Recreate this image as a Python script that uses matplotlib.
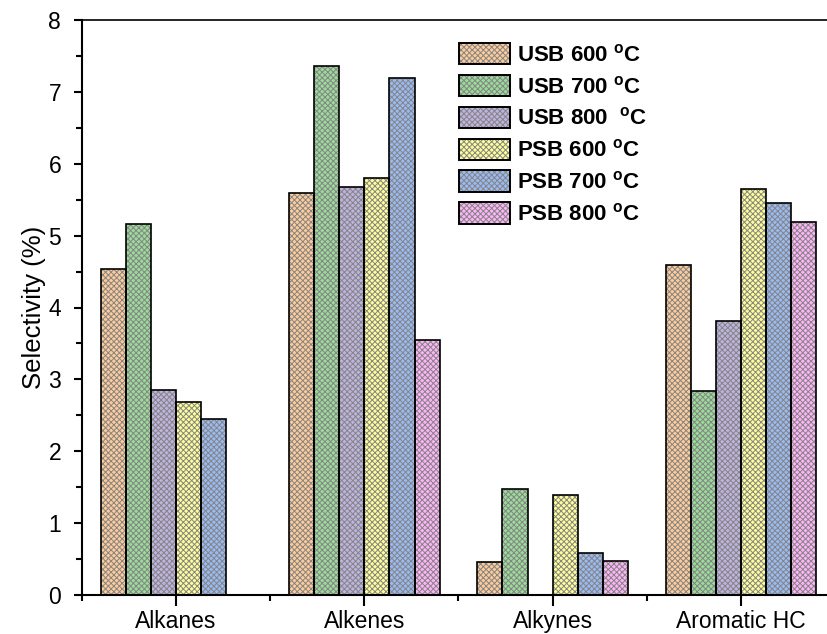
import matplotlib
matplotlib.use("Agg")
import matplotlib.pyplot as plt
import numpy as np
from matplotlib.patches import Patch
from matplotlib.legend_handler import HandlerTuple
from matplotlib.ticker import MultipleLocator, FixedLocator

plt.rcParams['font.family'] = ['Liberation Sans', 'DejaVu Sans']
plt.rcParams['mathtext.fontset'] = 'custom'
plt.rcParams['mathtext.rm'] = 'Liberation Sans'
plt.rcParams['mathtext.bf'] = 'Liberation Sans:bold'
plt.rcParams['hatch.linewidth'] = 0.7

categories = ['Alkanes', 'Alkenes', 'Alkynes', 'Aromatic HC']
series_labels = [r'USB 600 $^{\mathbf{o}}$C', r'USB 700 $^{\mathbf{o}}$C',
                 r'USB 800  $^{\mathbf{o}}$C', r'PSB 600 $^{\mathbf{o}}$C',
                 r'PSB 700 $^{\mathbf{o}}$C', r'PSB 800 $^{\mathbf{o}}$C']
usb_600 = [4.53, 5.60, 0.46, 4.59]
usb_700 = [5.16, 7.36, 1.47, 2.84]
usb_800 = [2.85, 5.67, 0.00, 3.81]
psb_600 = [2.69, 5.80, 1.39, 5.65]
psb_700 = [2.45, 7.19, 0.58, 5.45]
psb_800 = [0.00, 3.55, 0.48, 5.19]
series = [usb_600, usb_700, usb_800, psb_600, psb_700, psb_800]
colors = ['#FFCC99', '#99DD99', '#BFB3E0', '#FFFF99', '#99BBF5', '#FFB3F8']
hatch_col = '#858585'
hatch = 'xxxxxx'

fig = plt.figure(figsize=(8.28, 6.34), dpi=100)
W, H = 828, 634
ax = fig.add_axes([82 / W, 39 / H, (835 - 82) / W, (595 - 20) / H])

x = np.arange(len(categories))
n = len(series)
bw = 0.8 / n
handles = []
for i, (vals, col) in enumerate(zip(series, colors)):
    pos = x - 0.4 + bw * (i + 0.5)
    ax.bar(pos, vals, width=bw, color=col, edgecolor=hatch_col,
           hatch=hatch, linewidth=0, zorder=2)
    ax.bar(pos, vals, width=bw, facecolor='none', edgecolor='black',
           linewidth=1.2, zorder=3)
    h1 = Patch(facecolor=col, edgecolor=hatch_col, hatch=hatch, linewidth=0)
    h2 = Patch(facecolor='none', edgecolor='black', linewidth=1.4)
    handles.append((h1, h2))

ax.set_xlim(-0.5, 3.5)
ax.set_ylim(0, 8)
ax.set_xticks(x)
ax.set_xticklabels(categories)
ax.xaxis.set_minor_locator(FixedLocator([-0.5, 0.5, 1.5, 2.5, 3.5]))
ax.yaxis.set_major_locator(MultipleLocator(1))
ax.yaxis.set_minor_locator(MultipleLocator(0.5))
ax.tick_params(axis='both', which='major', direction='out', width=1.5)
ax.tick_params(axis='x', which='major', length=8, pad=3, labelsize=16.5)
ax.tick_params(axis='y', which='major', length=6, pad=9, labelsize=16.5)
ax.tick_params(axis='both', which='minor', direction='out', width=1.5,
               length=4)
for s in ax.spines.values():
    s.set_linewidth(1.5)
ax.spines['top'].set_linewidth(1.2)
ax.set_ylabel('Selectivity (%)', fontsize=18.5)
ax.yaxis.set_label_coords((46 - 82) / (835 - 82), 0.5)

ax.legend(handles, series_labels, handler_map={tuple: HandlerTuple(ndivide=1)},
          loc='upper left', bbox_to_anchor=((450 - 82) / (835 - 82), 1 - 14 / 575),
          frameon=False, prop={'weight': 'bold', 'size': 16},
          handlelength=2.3, handleheight=1.1, handletextpad=0.3,
          labelspacing=0.39, borderaxespad=0)

fig.savefig('out.png', dpi=100)
